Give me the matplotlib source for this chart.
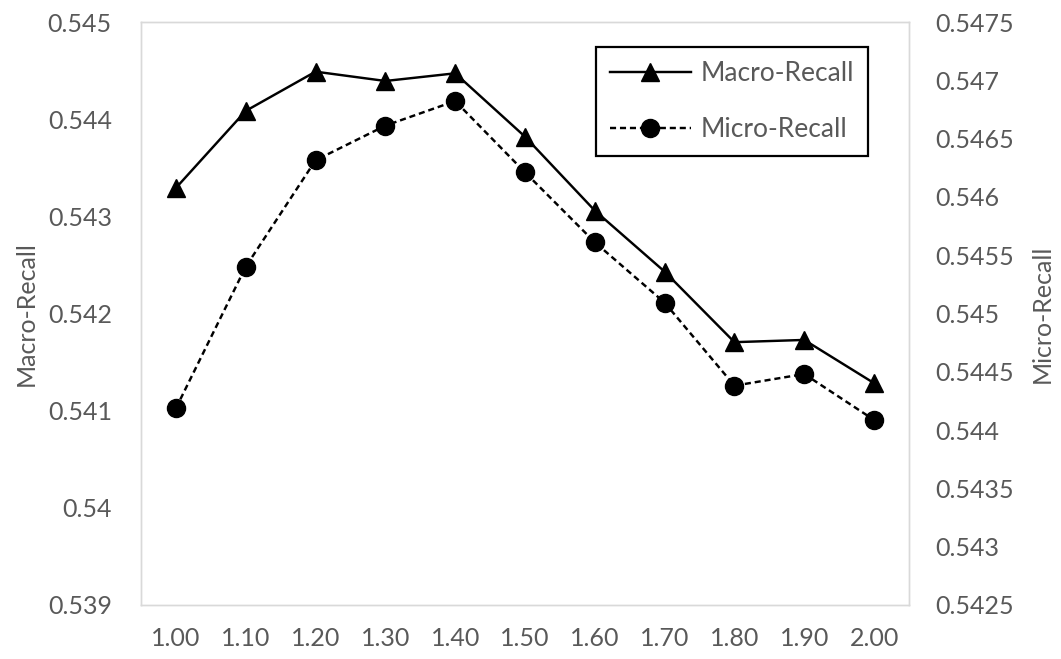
import matplotlib
matplotlib.use("Agg")
import matplotlib.pyplot as plt

plt.rcParams['font.family'] = ['Lato', 'DejaVu Sans']

# Scaling factor on the x axis
categories = ["1.00", "1.10", "1.20", "1.30", "1.40", "1.50",
              "1.60", "1.70", "1.80", "1.90", "2.00"]

# Macro-Recall (left axis)
macro_recall = [0.543292, 0.544085, 0.544489, 0.544393, 0.544472, 0.543820,
                0.543059, 0.542431, 0.541705, 0.541728, 0.541283]

# Micro-Recall (right axis)
micro_recall = [0.544187, 0.545401, 0.546314, 0.546611, 0.546822, 0.546211,
                0.545611, 0.545093, 0.544381, 0.544481, 0.544087]

left_ticks = [0.539, 0.540, 0.541, 0.542, 0.543, 0.544, 0.545]
left_ticklabels = ["0.539", "0.54", "0.541", "0.542", "0.543", "0.544", "0.545"]
right_ticks = [0.5425, 0.5430, 0.5435, 0.5440, 0.5445, 0.5450,
               0.5455, 0.5460, 0.5465, 0.5470, 0.5475]
right_ticklabels = ["0.5425", "0.543", "0.5435", "0.544", "0.5445", "0.545",
                    "0.5455", "0.546", "0.5465", "0.547", "0.5475"]

TEXT = "#595959"
FRAME = "#d9d9d9"
FS = 18
LEG_FS = 19

fig = plt.figure(figsize=(10.61, 6.59), dpi=100)
W, H = 1061, 659
ax1 = fig.add_axes([141 / W, 1 - 605 / H, 768 / W, 583 / H])
ax2 = ax1.twinx()

x = list(range(len(categories)))

l1, = ax1.plot(x, macro_recall, color="black", lw=1.75, marker="^",
               markersize=12.5, label="Macro-Recall", zorder=3)
l2, = ax2.plot(x, micro_recall, color="black", lw=1.75, marker="o",
               markersize=13, linestyle=(0, (2.5, 1.6)),
               label="Micro-Recall", zorder=3)

ax1.set_xlim(-0.5, len(categories) - 0.5)
ax1.set_ylim(0.539, 0.545)
ax2.set_ylim(0.5425, 0.5475)

ax1.set_xticks(x)
ax1.set_xticklabels(categories)
ax1.set_yticks(left_ticks)
ax1.set_yticklabels(left_ticklabels)
ax2.set_yticks(right_ticks)
ax2.set_yticklabels(right_ticklabels)

for ax in (ax1, ax2):
    ax.tick_params(axis="both", length=0, labelsize=FS, labelcolor=TEXT)
    for s in ax.spines.values():
        s.set_color(FRAME)
        s.set_linewidth(1.0)
ax1.tick_params(axis="y", pad=21)
ax2.tick_params(axis="y", pad=19)
ax1.tick_params(axis="x", pad=16)

ax1.set_ylabel("Macro-Recall", fontsize=FS, color=TEXT, labelpad=7)
ax2.set_ylabel("Micro-Recall", fontsize=FS, color=TEXT, labelpad=12)

leg = ax2.legend(handles=[l1, l2], loc="upper left",
                 bbox_to_anchor=(0.592, 0.957), borderaxespad=0,
                 fontsize=LEG_FS, handlelength=3.07, handletextpad=0.36,
                 labelspacing=1.19, borderpad=0.53, fancybox=False,
                 framealpha=1, edgecolor="black")
leg.get_frame().set_linewidth(1.6)
for t in leg.get_texts():
    t.set_color(TEXT)

fig.savefig("out.png", dpi=100, facecolor="white")
